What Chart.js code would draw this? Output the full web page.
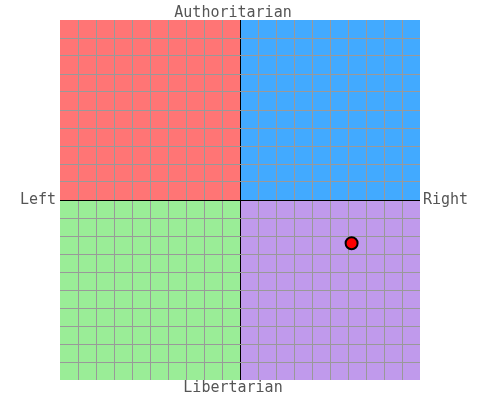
<!DOCTYPE html>
<html>
<head>
<meta charset="utf-8">
<script src="https://cdn.jsdelivr.net/npm/chart.js@4"></script>
<style>
  html, body { margin: 0; padding: 0; background: #fff; }
  #wrap { width: 480px; height: 400px; }
</style>
</head>
<body>
<div id="wrap"><canvas id="chart"></canvas></div>
<script>
// axis range of the compass (economic x, social y)
const axisMin = -10;
const axisMax = 10;

// the one plotted position
const pointEconomic = [6.2];
const pointSocial = [-2.4];

// quadrant labels: top, bottom, left, right
const labelTop = 'Authoritarian';
const labelBottom = 'Libertarian';
const labelLeft = 'Left';
const labelRight = 'Right';

// quadrant fills: top-left, top-right, bottom-left, bottom-right
const quadrantColors = ['#ff7575', '#42aaff', '#9aed97', '#c09aec'];

const quadrantPlugin = {
    id: 'quadrants',
    beforeDraw(chart) {
        const { ctx, scales: { x, y } } = chart;
        const x0 = x.getPixelForValue(axisMin), xm = x.getPixelForValue(0), x1 = x.getPixelForValue(axisMax);
        const y0 = y.getPixelForValue(axisMax), ym = y.getPixelForValue(0), y1 = y.getPixelForValue(axisMin);
        ctx.save();
        ctx.fillStyle = quadrantColors[0]; ctx.fillRect(x0, y0, xm - x0, ym - y0);
        ctx.fillStyle = quadrantColors[1]; ctx.fillRect(xm, y0, x1 - xm, ym - y0);
        ctx.fillStyle = quadrantColors[2]; ctx.fillRect(x0, ym, xm - x0, y1 - ym);
        ctx.fillStyle = quadrantColors[3]; ctx.fillRect(xm, ym, x1 - xm, y1 - ym);
        ctx.restore();
    },
    afterDraw(chart) {
        const { ctx, chartArea: a } = chart;
        const midY = (a.top + a.bottom) / 2;
        const midX = (a.left + a.right) / 2 - 7;
        ctx.save();
        ctx.font = '15px "DejaVu Sans Mono", monospace';
        ctx.fillStyle = '#555';
        ctx.textBaseline = 'middle';
        ctx.textAlign = 'center';
        ctx.fillText(labelTop, midX, a.top - 7);
        ctx.fillText(labelBottom, midX, a.bottom + 8);
        ctx.textAlign = 'right';
        ctx.fillText(labelLeft, a.left - 4, midY);
        ctx.textAlign = 'left';
        ctx.fillText(labelRight, a.right + 3, midY);
        ctx.restore();
    }
};

function gridColor(c) {
    const v = c.tick.value;
    if (v === axisMin || v === axisMax) return 'rgba(0,0,0,0)';
    return v === 0 ? '#000' : '#999';
}

new Chart(document.getElementById('chart'), {
    type: 'scatter',
    data: {
        datasets: [{
            data: pointEconomic.map((v, i) => ({ x: v, y: pointSocial[i] })),
            backgroundColor: '#ff0000',
            borderColor: '#000',
            borderWidth: 2,
            pointRadius: 6,
            pointHoverRadius: 6
        }]
    },
    options: {
        responsive: true,
        maintainAspectRatio: false,
        animation: false,
        layout: { padding: { left: 60, right: 60, top: 20, bottom: 20 } },
        plugins: { legend: { display: false }, tooltip: { enabled: false } },
        scales: {
            x: {
                min: axisMin, max: axisMax,
                ticks: { display: false, stepSize: 1 },
                border: { display: false },
                grid: { color: gridColor, lineWidth: 1, drawTicks: false }
            },
            y: {
                min: axisMin, max: axisMax,
                ticks: { display: false, stepSize: 1 },
                border: { display: false },
                grid: { color: gridColor, lineWidth: 1, drawTicks: false }
            }
        }
    },
    plugins: [quadrantPlugin]
});
</script>
</body>
</html>
